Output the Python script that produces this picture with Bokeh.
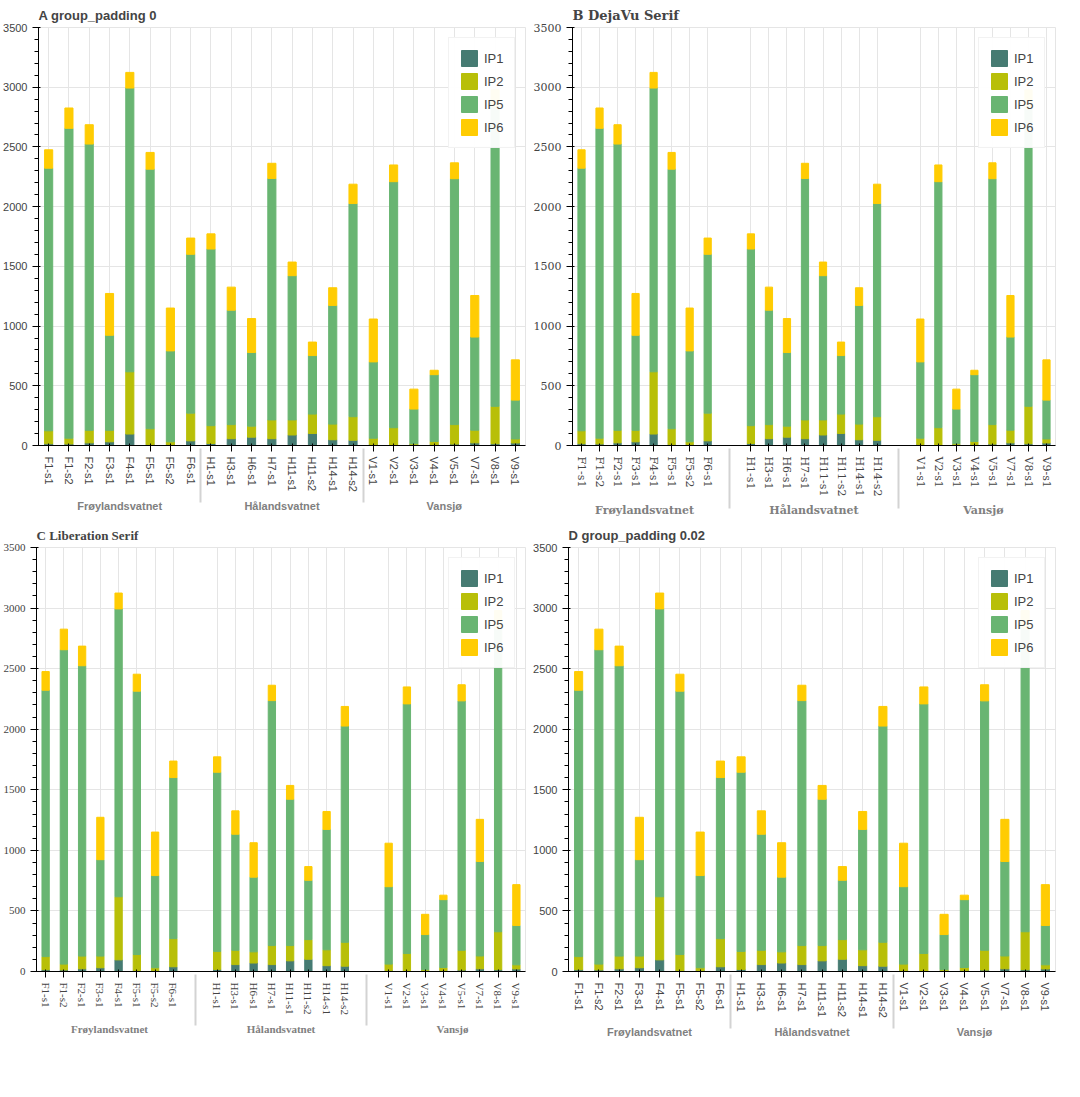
import math
from bokeh.plotting import figure
from bokeh.models import FactorRange, ColumnDataSource
from bokeh.layouts import column, row
from bokeh.embed import file_html
from bokeh.resources import INLINE

lakes = ["Frøylandsvatnet"] * 8 + ["Hålandsvatnet"] * 8 + ["Vansjø"] * 8
samples = ["F1-s1", "F1-s2", "F2-s1", "F3-s1", "F4-s1", "F5-s1", "F5-s2", "F6-s1",
           "H1-s1", "H3-s1", "H6-s1", "H7-s1", "H11-s1", "H11-s2", "H14-s1", "H14-s2",
           "V1-s1", "V2-s1", "V3-s1", "V4-s1", "V5-s1", "V7-s1", "V8-s1", "V9-s1"]
ip1 = [15, 13, 22, 31, 96, 9, 9, 39, 17, 57, 70, 57, 88, 101, 48, 44, 9, 4, 8, 9, 12, 22, 15, 21]
ip2 = [108, 48, 105, 96, 521, 131, 22, 232, 149, 118, 92, 157, 126, 162, 131, 197, 52, 145, 7, 24, 163, 106, 313, 34]
ip5 = [2199, 2595, 2397, 796, 2376, 2174, 761, 1330, 1479, 958, 617, 2022, 1208, 490, 994, 1785, 639, 2060, 290, 560, 2059, 780, 2508, 325]
ip6 = [154, 170, 162, 350, 131, 140, 359, 136, 127, 193, 284, 127, 114, 113, 148, 162, 359, 140, 167, 37, 133, 348, 143, 337]
series = ["IP1", "IP2", "IP5", "IP6"]
colors = ["#467b72", "#b8bf08", "#69b572", "#ffcc03"]
factors = list(zip(lakes, samples))


def mk(name, gp=1.4, font=None):
    rng = FactorRange(*factors, group_padding=gp)
    src = ColumnDataSource(dict(x=factors, IP1=ip1, IP2=ip2, IP5=ip5, IP6=ip6))
    p = figure(x_range=rng, y_range=(0, 3500), width=530, height=520, output_backend="svg",
               toolbar_location=None, title=name)
    p.vbar_stack(series, x="x", width=0.4, source=src, color=colors, legend_label=series)
    p.xaxis.major_label_orientation = "vertical"
    if font:
        p.xaxis.major_label_text_font = font
        p.xaxis.group_text_font = font
        p.yaxis.major_label_text_font = font
        p.title.text_font = font
    return p


a = mk("A group_padding 0", gp=0)
b = mk("B DejaVu Serif", font="DejaVu Serif")
c = mk("C Liberation Serif", font="Liberation Serif")
d = mk("D group_padding 0.02", gp=0.02)
layout = column(row(a, b), row(c, d))
open("out.html", "w").write(file_html(layout, INLINE))
